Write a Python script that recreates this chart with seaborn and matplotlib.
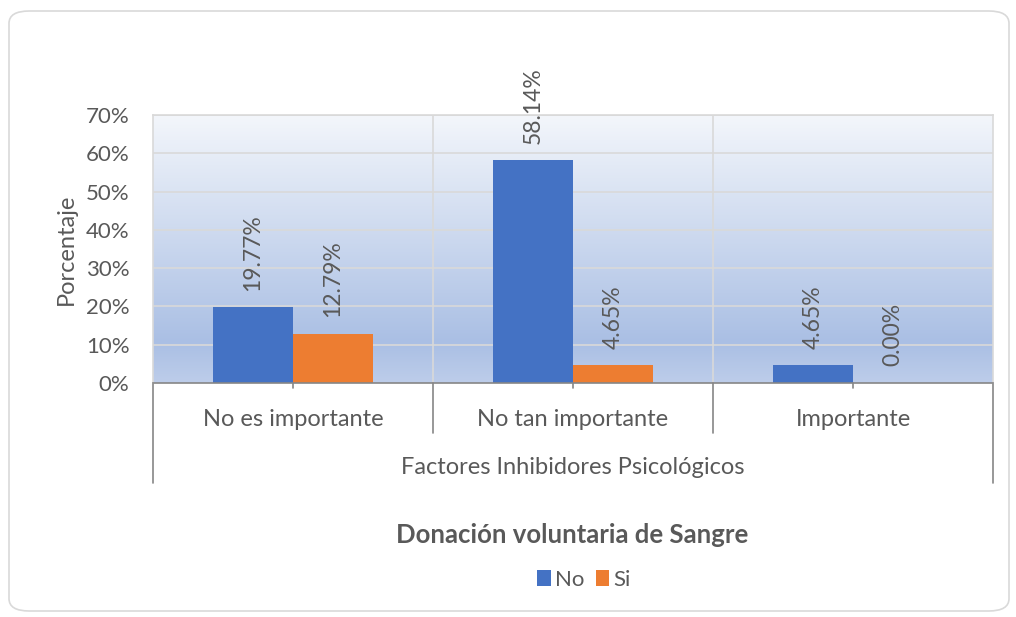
import matplotlib

matplotlib.use("Agg")
import matplotlib.pyplot as plt
import numpy as np
import pandas as pd
import seaborn as sns
from matplotlib.colors import LinearSegmentedColormap
from matplotlib.lines import Line2D
from matplotlib.patches import FancyBboxPatch, Patch

# --- Data -------------------------------------------------------------------
CATEGORIES = ["No es importante", "No tan importante", "Importante"]
SERIES = ["No", "Si"]
NO_VALUES = [19.77, 58.14, 4.65]
SI_VALUES = [12.79, 4.65, 0.00]
Y_TICKS = [0, 10, 20, 30, 40, 50, 60, 70]
GROUP_LABEL = "Factores Inhibidores Psicológicos"
Y_LABEL = "Porcentaje"
TITLE = "Donación voluntaria de Sangre"

COLORS = {"No": "#4472c4", "Si": "#ed7d31"}
TEXT = "#595959"
GRID = "#d9d9d9"
AXIS = "#868686"

df = pd.DataFrame({
    "categoria": CATEGORIES * 2,
    "serie": ["No"] * 3 + ["Si"] * 3,
    "valor": NO_VALUES + SI_VALUES,
})

sns.set_theme(style="white")
plt.rcParams["font.family"] = ["Lato", "DejaVu Sans"]

fig = plt.figure(figsize=(10.16, 6.17), dpi=100)
fig.patch.set_facecolor("white")

# rounded chart frame
frame = FancyBboxPatch((9 / 1016, 6 / 617), 1000 / 1016, 600 / 617,
                       boxstyle="round,pad=0,rounding_size=0.02",
                       transform=fig.transFigure, facecolor="none",
                       edgecolor="#d9d9d9", linewidth=1.2, zorder=-1)
fig.patches.append(frame)

ax = fig.add_axes([153 / 1016, 1 - 383 / 617, 840 / 1016, 268 / 617])
ax.set_facecolor("none")

# gradient plot-area fill
grad = LinearSegmentedColormap.from_list(
    "fill", [(0, "#bdcdea"), (0.15, "#aabfe4"), (1, "#f3f6fb")])
ax.imshow(np.linspace(0, 1, 256).reshape(-1, 1), aspect="auto", cmap=grad,
          origin="lower", extent=[0, 1, 0, 1], transform=ax.transAxes,
          zorder=0)

sns.barplot(data=df, x="categoria", y="valor", hue="serie", order=CATEGORIES,
            hue_order=SERIES, palette=COLORS, width=0.572, gap=0,
            saturation=1, linewidth=0, ax=ax, legend=False, zorder=3)

ax.set_xlim(-0.5, 2.5)
ax.set_ylim(0, 70)
ax.set_yticks(Y_TICKS)
ax.set_yticklabels([f"{t}%" for t in Y_TICKS], fontsize=16, color=TEXT)
ax.tick_params(axis="y", length=0, pad=17)
ax.set_xticks([])
ax.set_xlabel("")
ax.set_ylabel(Y_LABEL, fontsize=17, color=TEXT, labelpad=6)

for t in Y_TICKS[1:]:
    ax.axhline(t, color=GRID, lw=1.2, zorder=1)
for xb in [0.5, 1.5]:
    ax.axvline(xb, color=GRID, lw=1.2, zorder=1)

for side in ["top", "right", "left"]:
    ax.spines[side].set_color(GRID)
    ax.spines[side].set_linewidth(1.2)
ax.spines["bottom"].set_color(AXIS)
ax.spines["bottom"].set_linewidth(1.2)
ax.spines["bottom"].set_zorder(4)

# data labels
for cont in ax.containers:
    ax.bar_label(cont, labels=[f"{v:.2f}%" for v in cont.datavalues],
                 rotation=90, padding=12, fontsize=16.5, color=TEXT)

# multi-level category axis
xf = ax.get_xaxis_transform()
for c in range(3):
    ax.add_line(Line2D([c, c], [0, -5 / 268], transform=xf, color=AXIS,
                       lw=1.2, clip_on=False))
    ax.text(c, -36 / 268, CATEGORIES[c], transform=xf, ha="center",
            va="center", fontsize=17, color=TEXT)
for xb in [0.5, 1.5]:
    ax.add_line(Line2D([xb, xb], [0, -50 / 268], transform=xf, color=AXIS,
                       lw=1.2, clip_on=False))
for xb in [-0.5, 2.5]:
    ax.add_line(Line2D([xb, xb], [0, -100 / 268], transform=xf, color=AXIS,
                       lw=1.2, clip_on=False))
ax.text(1, -84 / 268, GROUP_LABEL, transform=xf, ha="center", va="center",
        fontsize=17, color=TEXT)

# title and legend below
fig.text(572 / 1016, 1 - 535 / 617, TITLE, ha="center", va="center",
         fontsize=18.5, fontweight="bold", color=TEXT)
handles = [Patch(facecolor=COLORS[s], edgecolor="none") for s in SERIES]
fig.legend(handles, SERIES, loc="center", bbox_to_anchor=(584 / 1016, 1 - 580 / 617),
           ncol=2, frameon=False, fontsize=16, handlelength=0.6,
           handleheight=0.7, handletextpad=0.2, columnspacing=0.5,
           labelcolor=TEXT)

fig.savefig("out.png", dpi=100)
